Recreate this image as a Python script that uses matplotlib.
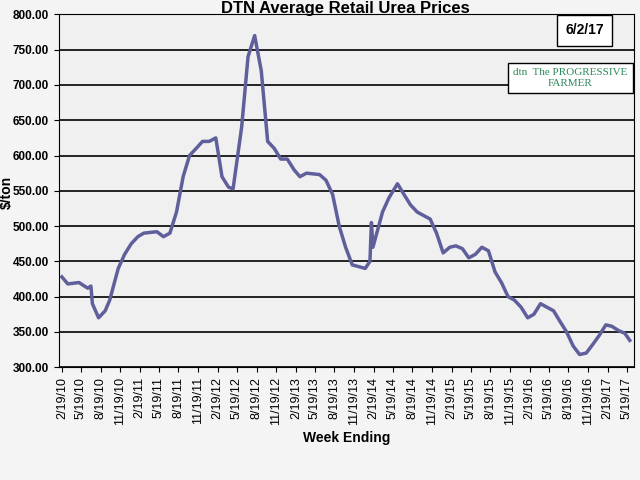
import matplotlib
matplotlib.use("Agg")
import matplotlib.pyplot as plt
import pandas as pd

plt.rcParams["font.family"] = "Liberation Sans"

dates = ["2010-02-19","2010-03-19","2010-05-10","2010-06-20","2010-07-05","2010-07-12","2010-08-10","2010-09-10","2010-10-01",
"2010-11-10","2010-12-10","2011-01-10","2011-02-10","2011-03-10","2011-05-10","2011-06-10","2011-07-10","2011-08-10",
"2011-09-10","2011-10-10","2011-11-10","2011-12-10","2012-01-10","2012-02-10","2012-03-10","2012-04-10","2012-05-01",
"2012-06-10","2012-07-10","2012-08-10","2012-09-10","2012-10-10","2012-11-10","2012-12-10","2013-01-10","2013-02-10",
"2013-03-10","2013-04-10","2013-06-10","2013-07-10","2013-08-10","2013-09-10","2013-10-10","2013-11-10","2014-01-10",
"2014-02-01","2014-02-08","2014-02-15","2014-04-01","2014-05-01","2014-06-10","2014-07-10","2014-08-10","2014-09-10",
"2014-10-10","2014-11-10","2014-12-10","2015-01-10","2015-02-10","2015-03-10","2015-04-10","2015-05-10","2015-06-10",
"2015-07-10","2015-08-10","2015-09-10","2015-10-10","2015-11-10","2015-12-10","2016-01-10","2016-02-10","2016-03-10",
"2016-04-10","2016-05-10","2016-06-10","2016-07-10","2016-08-10","2016-09-10","2016-10-10","2016-11-10","2016-12-10",
"2017-01-10","2017-02-10","2017-03-10","2017-04-10","2017-05-10","2017-06-02"]
prices = [428,418,420,412,415,390,370,380,395,440,460,475,485,490,492,485,490,520,570,600,610,620,620,625,570,555,553,
640,740,770,720,620,610,595,595,580,570,575,573,565,545,500,470,445,440,450,505,470,520,540,560,545,530,520,515,510,
490,462,470,472,468,455,460,470,465,435,420,400,395,385,370,375,390,385,380,365,350,330,318,320,332,345,360,358,352,348,338]
tick_dates = [pd.Timestamp(y, m, 19) for y in range(2010, 2018) for m in (2, 5, 8, 11)
              if pd.Timestamp(y, m, 19) <= pd.Timestamp("2017-05-19")]

fig = plt.figure(figsize=(6.4, 4.8), dpi=100)
fig.patch.set_facecolor("#f4f4f4")
ax = fig.add_axes([0.092, 0.235, 0.898, 0.735])
ax.set_facecolor("#f0f0f0")
ax.plot(pd.to_datetime(dates), prices, color="#5f5f9c", lw=2.5)
ax.set_ylim(300, 800)
ax.set_yticks(range(300, 801, 50))
ax.set_yticklabels([f"{v:.2f}" for v in range(300, 801, 50)], fontsize=8.5, fontweight="bold")
ax.set_xlim(pd.Timestamp("2010-02-05"), pd.Timestamp("2017-06-20"))
ax.set_xticks(tick_dates)
ax.set_xticklabels([f"{d.month}/{d.day}/{d.strftime('%y')}" for d in tick_dates], rotation=90, fontsize=9)
ax.grid(axis="y", color="black", lw=1.2)
ax.set_axisbelow(True)
fig.text(0.011, 0.6, "$/ton", rotation=90, ha="center", va="center", fontsize=10, fontweight="bold")
ax.set_xlabel("Week Ending", fontsize=10, fontweight="bold")
fig.text(0.54, 0.998, "DTN Average Retail Urea Prices", ha="center", va="top", fontsize=12, fontweight="bold")
ax.text(0.915, 0.955, "6/2/17", transform=ax.transAxes, ha="center", va="center", fontsize=10, fontweight="bold",
        bbox=dict(boxstyle="square", fc="white", ec="black", pad=0.6), zorder=5)
ax.text(0.89, 0.82, "dtn  The PROGRESSIVE\nFARMER", transform=ax.transAxes, ha="center", va="center", fontsize=8,
        color="#2a8a5a", family="Liberation Serif",
        bbox=dict(boxstyle="square", fc="white", ec="black", pad=0.5), zorder=5)
fig.savefig("out.png", dpi=100, facecolor=fig.get_facecolor())
